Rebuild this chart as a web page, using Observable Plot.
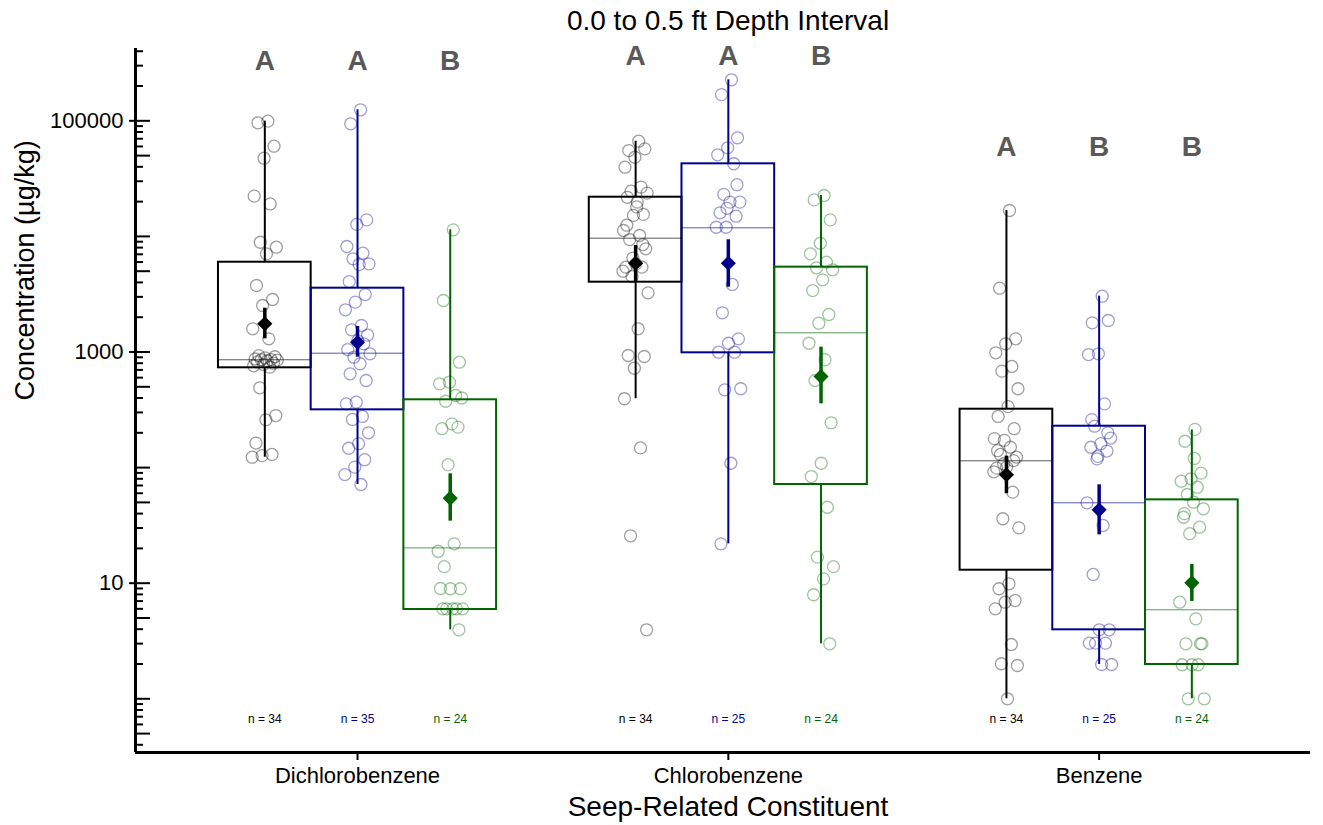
<!DOCTYPE html>
<html>
<head>
<meta charset="utf-8">
<script src="https://cdn.jsdelivr.net/npm/d3@7"></script>
<script src="https://cdn.jsdelivr.net/npm/@observablehq/plot@0.6"></script>
<style>
  html, body { margin: 0; padding: 0; background: #fff; }
  #chart svg { display: block; }
</style>
</head>
<body>
<div id="chart"></div>
<script>
// ---------- data ----------
const chartTitle = "0.0 to 0.5 ft Depth Interval";
const xTitle = "Seep-Related Constituent";
const yTitle = "Concentration (µg/kg)";
const constituents = ["Dichlorobenzene", "Chlorobenzene", "Benzene"];
const yTickLabels = [10, 1000, 100000];

const nCounts = [[34, 35, 24], [34, 25, 24], [34, 25, 24]];
const letters = [["A", "A", "B"], ["A", "A", "B"], ["A", "B", "B"]];
const letterAt = [330000, 360000, 59000];

// box statistics per constituent, per series
const boxQ1 = [[730, 316, 5.92], [4018, 984, 71.4], [12.95, 3.95, 1.98]];
const boxMedian = [[857, 977, 20.2], [9650, 11870, 1466], [114.5, 49.6, 5.89]];
const boxQ3 = [[5980, 3565, 386], [21830, 42460, 5420], [320, 228, 52.6]];
const whiskerLo = [[123, 71.4, 3.95], [394, 21.9, 2.99], [1.0, 1.98, 1.0]];
const whiskerHi = [[99300, 124500, 11400], [66600, 226300, 22600], [16750, 3040, 212]];
const meanVal = [[1754, 1216, 54.4], [5866, 5866, 614], [86.7, 43.1, 10.07]];
const meanLo = [[1300, 902, 34.4], [4018, 3636, 356], [59.4, 26.2, 6.95]];
const meanHi = [[2393, 1662, 88.4], [8340, 9350, 1101], [125.6, 71, 14.5]];

// individual observations
const dichloroA = [99300, 96100, 60300, 47500, 22300, 19100, 8900, 8070, 7060, 3760, 2845, 2525, 1588, 1300, 930, 910, 890, 870, 860, 857, 850, 840, 820, 800, 780, 760, 740, 490, 282, 259, 163, 130, 127, 123];
const dichloroB = [124500, 94200, 13900, 12700, 8180, 7160, 6400, 5790, 5710, 4070, 3140, 2700, 2317, 1695, 1556, 1400, 1250, 1050, 1178, 902, 965, 791, 648, 567, 368, 356, 277, 261, 200, 161, 147, 117, 101, 87, 71.4];
const dichloroC = [11400, 2790, 816, 548, 531, 421, 375, 400, 239, 217, 224, 106, 18.9, 21.9, 13.9, 8.95, 8.95, 9.0, 6.0, 6.0, 6.0, 6.0, 6.0, 3.95];
const chloroA = [66600, 55300, 57200, 48400, 39700, 26700, 24600, 23700, 19800, 21800, 15500, 15200, 11250, 10180, 9390, 7810, 5790, 5420, 5420, 4500, 3250, 1588, 933, 914, 724, 394, 148, 25.7, 3.95, 18000, 12500, 8500, 6500, 5000];
const chloroB = [226300, 168600, 71300, 58400, 50800, 42500, 23100, 19800, 19800, 16000, 14960, 12000, 12000, 3840, 2183, 1300, 1191, 996, 996, 471, 481, 109, 21.9, 28000, 17500];
const chloroC = [22600, 20700, 13900, 8730, 7070, 5980, 5350, 5140, 4210, 3400, 2110, 1775, 1191, 857, 567, 244, 109, 83.7, 45.4, 16.8, 13.9, 10.9, 7.94, 2.99];
const benzeneA = [16750, 3565, 1300, 1178, 984, 750, 683, 481, 337, 277, 217, 172, 178, 150, 130, 123, 101, 99, 61.3, 36.1, 30.1, 9.88, 8.95, 7.08, 6.85, 6.0, 2.95, 2.01, 1.94, 1.0, 140, 115, 108, 92];
const benzeneB = [3040, 1790, 1873, 965, 951, 356, 228, 180, 161, 150, 139, 119, 49.6, 31.6, 11.9, 3.95, 3.95, 3.03, 3.03, 3.03, 1.98, 1.98, 260, 200, 125];
const benzeneC = [214, 169, 89.5, 80, 76.3, 67.7, 58.5, 44, 50.2, 37.2, 30.5, 26.8, 6.85, 4.92, 2.99, 2.99, 1.97, 1.97, 1.97, 1.0, 1.0, 120, 40, 3.0];
const observations = [[dichloroA, dichloroB, dichloroC], [chloroA, chloroB, chloroC], [benzeneA, benzeneB, benzeneC]];

// ---------- styling ----------
const seriesColors = ["#000000", "#00008B", "#006400"];
const FONT = "'Liberation Sans', Arial, Helvetica, sans-serif";
const xDomain = [-1.395, 11.28];
const yDomain = [0.343, 422300];
const W = 1323, H = 825, ML = 135, MR = 13, MT = 48, MB = 73;
const plotW = W - ML - MR;

// slot position of a box: constituent g, series s (one empty slot between groups)
const slot = (g, s) => g * 4 + s;
// deterministic jitter (low-discrepancy sequence)
const jit = i => ((((i + 1) * 0.6180339887) % 1) - 0.5) * 0.28;

const boxes = [];
const points = [];
constituents.forEach((name, g) => {
  [0, 1, 2].forEach(s => {
    boxes.push({
      pos: slot(g, s), color: seriesColors[s],
      q1: boxQ1[g][s], med: boxMedian[g][s], q3: boxQ3[g][s],
      lo: whiskerLo[g][s], hi: whiskerHi[g][s],
      mean: meanVal[g][s], mlo: meanLo[g][s], mhi: meanHi[g][s],
      n: nCounts[g][s], letter: letters[g][s], letterY: letterAt[g]
    });
    observations[g][s].forEach((v, i) => points.push({pos: slot(g, s) + jit(i), v, color: seriesColors[s]}));
  });
});

// tick values for the log axis
const majorInward = [], minorInward = [];
for (let e = -1; e <= 5; e++) {
  for (let k = 1; k <= 9; k++) {
    const v = k * Math.pow(10, e);
    if (v < yDomain[0] || v > yDomain[1]) continue;
    if (k === 1 || k === 5) majorInward.push(v); else minorInward.push(v);
  }
}

const chart = Plot.plot({
  width: W, height: H,
  marginLeft: ML, marginRight: MR, marginTop: MT, marginBottom: MB,
  style: {fontFamily: FONT, background: "#fff", color: "#000"},
  x: {type: "linear", domain: xDomain, axis: null},
  y: {type: "log", domain: yDomain, axis: null},
  color: {type: "identity"},
  marks: [
    // observations
    Plot.dot(points, {x: "pos", y: "v", r: 6, stroke: "color", strokeOpacity: 0.38, strokeWidth: 1.3, fill: "none"}),
    // whiskers
    Plot.ruleX(boxes, {x: "pos", y1: "q3", y2: "hi", stroke: "color", strokeWidth: 2}),
    Plot.ruleX(boxes, {x: "pos", y1: "lo", y2: "q1", stroke: "color", strokeWidth: 2}),
    // boxes
    Plot.rect(boxes, {x1: d => d.pos - 0.5, x2: d => d.pos + 0.5, y1: "q1", y2: "q3", stroke: "color", strokeWidth: 2, fill: "none"}),
    // medians
    Plot.ruleY(boxes, {y: "med", x1: d => d.pos - 0.5, x2: d => d.pos + 0.5, stroke: "color", strokeOpacity: 0.65, strokeWidth: 1}),
    // mean and interval
    Plot.ruleX(boxes, {x: "pos", y1: "mlo", y2: "mhi", stroke: "color", strokeWidth: 3.5}),
    Plot.dot(boxes, {x: "pos", y: "mean", symbol: "diamond2", r: 6.8, fill: "color", stroke: "none"}),
    // significance letters
    Plot.text(boxes, {x: "pos", y: "letterY", text: "letter", fill: "#595959", fontSize: 28, fontWeight: "bold"}),
    // sample counts
    Plot.text(boxes, {x: "pos", text: d => `n = ${d.n}`, frameAnchor: "bottom", dy: -30, fill: "color", fontSize: 12}),
    // y axis
    Plot.ruleX([xDomain[0]], {strokeWidth: 3}),
    Plot.tickY(majorInward, {y: d => d, insetRight: plotW - 15, strokeWidth: 2}),
    Plot.tickY(minorInward, {y: d => d, insetRight: plotW - 8, strokeWidth: 2}),
    Plot.axisY({ticks: yTickLabels, tickFormat: d => String(d), tickSize: 6, tickPadding: 6, fontSize: 22, strokeWidth: 2, label: null}),
    // x axis
    Plot.ruleY([yDomain[0]], {strokeWidth: 3}),
    Plot.axisX({ticks: constituents.map((c, g) => slot(g, 1)), tickFormat: v => constituents[Math.round((v - 1) / 4)], tickSize: 8, tickPadding: 7, fontSize: 22, strokeWidth: 2, label: null}),
    // titles
    Plot.text([xTitle], {text: d => d, frameAnchor: "bottom", dx: 5, dy: 63, fontSize: 28}),
    Plot.text([yTitle], {text: d => d, frameAnchor: "left", dx: -110, rotate: -90, fontSize: 27}),
    Plot.text([chartTitle], {text: d => d, frameAnchor: "top", dx: 5, dy: -38, fontSize: 28})
  ]
});
document.getElementById("chart").appendChild(chart);
</script>
</body>
</html>
